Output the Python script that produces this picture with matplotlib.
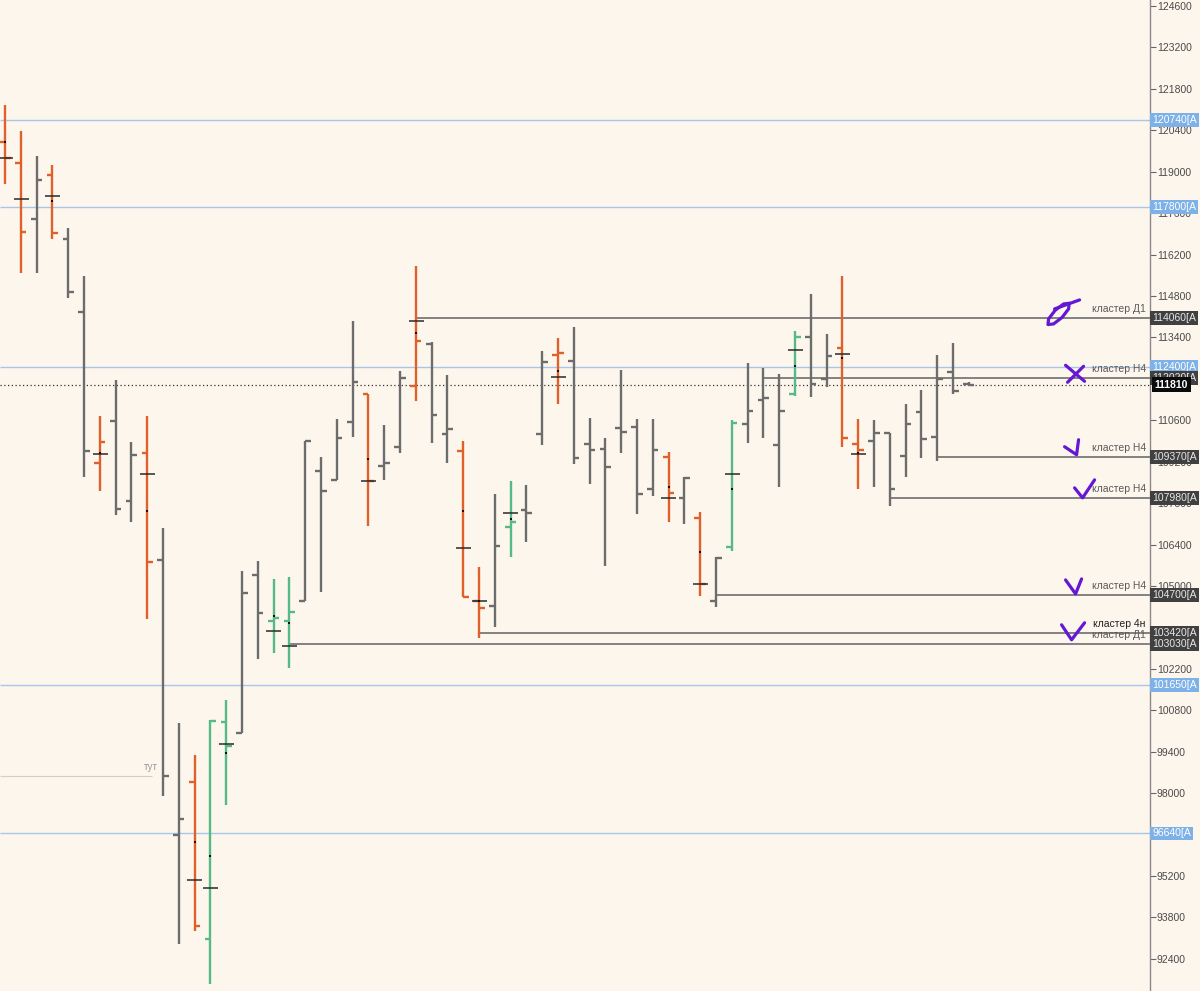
import matplotlib
matplotlib.use("Agg")
import matplotlib.pyplot as plt
import numpy as np

plt.rcParams['font.family'] = ['Liberation Sans', 'DejaVu Sans']

nan = np.nan
# ---- bar data (price units) ----
bar_colors = ['o', 'o', 'g', 'o', 'g', 'g', 'o', 'g', 'g', 'o',
              'g', 'g', 'o', 'e', 'e', 'g', 'g', 'e', 'e', 'g',
              'g', 'g', 'g', 'o', 'g', 'g', 'o', 'g', 'g', 'o',
              'o', 'g', 'e', 'g', 'g', 'o', 'g', 'g', 'g', 'g',
              'g', 'g', 'o', 'g', 'o', 'g', 'e', 'g', 'g', 'g',
              'e', 'g', 'g', 'o', 'o', 'g', 'g', 'g', 'g', 'g',
              'g', 'g']
highs = [121260, 120380, 119530, 119230, 117100, 115480, 110750, 111960, 109870, 110750,
         106960, 100370, 99290, 100470, 101150, 105510, 105850, 105240, 105310, 109900,
         109360, 110650, 113960, 111490, 110440, 112270, 115820, 113250, 112130, 109900,
         105640, 108110, 108550, 108420, 112940, 113380, 113750, 110680, 110000, 112300,
         110650, 110650, 109530, 108690, 107500, 105980, 110610, 112540, 112370, 112170,
         113620, 114870, 113520, 115480, 110650, 110610, 110170, 111150, 111630, 112810,
         113210, 111900]
lows = [118590, 115580, 115580, 116730, 114730, 108690, 108210, 107400, 107170, 103890,
        97910, 92900, 93350, 91550, 97600, 100040, 102540, 102740, 102230, 104500,
        104800, 108580, 110040, 107030, 108580, 109500, 111250, 109830, 109160, 104630,
        103250, 103620, 105980, 106490, 109770, 111150, 109120, 108450, 105680, 109500,
        107440, 108040, 107170, 107100, 104660, 104290, 106190, 109830, 110000, 108350,
        111420, 111390, 111730, 109700, 108280, 108350, 107710, 108690, 109330, 109230,
        111490, 111760]
opens = [120000, 119300, 117400, 118890, 116730, 114260, 109160, 110580, 107870, 109500,
         105880, 96590, 98380, 93070, 100410, 100040, 105370, 103820, 103820, 104500,
         108890, 108580, 110540, 111490, 109060, 109700, 111760, 113180, 110140, 109560,
         104500, 104330, 107000, 107570, 110140, 112810, 112610, 109800, 109630, 110340,
         110380, 108280, 109360, 107980, 107300, 104500, 106320, 110480, 111290, 109770,
         111490, 113420, 112000, 113040, 109800, 109900, 110170, 109400, 110880, 110040,
         112230, 111830]
closes = [119460, 116960, 118720, 116930, 114940, 109560, 109870, 107600, 109430, 105810,
          98580, 97130, 93510, 100440, 99600, 104770, 104090, 103920, 104120, 109900,
          108210, 110000, 111900, 108550, 109160, 112030, 113280, 110780, 110310, 104630,
          104260, 106350, 107170, 107470, 112570, 112880, 109330, 109600, 109020, 110210,
          108110, 109600, 108150, 108650, 105070, 105950, 110510, 110920, 111360, 110920,
          113420, 111830, 112770, 110000, 109600, 110170, 108280, 110480, 109970, 112000,
          111590, 111790]
pocs = [119460, 118080, nan, 118180, nan, nan, 109460, nan, nan, 108790,
        nan, nan, 95070, 94800, 99660, nan, nan, 103480, 102980, nan,
        nan, nan, nan, 108550, nan, nan, 113960, nan, nan, 106290,
        104500, nan, 107470, nan, nan, 112060, nan, nan, nan, nan,
        nan, nan, 107980, nan, 105070, nan, 108790, nan, nan, nan,
        112980, nan, nan, 112840, 109460, nan, nan, nan, nan, nan,
        nan, nan]
dots = [119990, nan, nan, 118010, nan, nan, 109500, nan, nan, 107540,
        nan, nan, 96350, 95880, 99360, nan, nan, 103990, 103750, nan,
        nan, nan, nan, 109290, nan, nan, 113550, nan, nan, 107540,
        104500, nan, 107270, nan, nan, 112270, nan, nan, nan, nan,
        nan, nan, 108350, nan, 106150, nan, 108280, nan, nan, nan,
        112440, nan, nan, 112710, 109500, nan, nan, nan, nan, nan,
        nan, nan]

# ---- levels ----
blue_levels = [120740, 117800, 112400, 101650, 96640]
cluster_levels = [114060, 112020, 109370, 107980, 104700, 103420, 103030]
cluster_start = [26, 48, 59, 56, 45, 30, 18]
cluster_texts = ['кластер Д1', 'кластер Н4', 'кластер Н4', 'кластер Н4',
                 'кластер Н4', 'кластер 4н', 'кластер Д1']
current_price = 111810
tut_level = 98580
tut_bar = 10
y_ticks = list(range(92400, 124601, 1400))
hidden_tick_labels = [112000, 103600, 96600]

BG = '#fdf6ed'
COL = {'g': '#6c6c6c', 'o': '#e0602a', 'e': '#55ba85'}

fig = plt.figure(figsize=(12, 9.91), dpi=100, facecolor=BG)
ax = fig.add_axes([0, 0, 1150 / 1200, 1])
ax.set_facecolor(BG)
xmin, xmax = -0.316, 72.47
ymin, ymax = 91316, 124803
ax.set_xlim(xmin, xmax)
ax.set_ylim(ymin, ymax)

for s in ['top', 'left', 'bottom']:
    ax.spines[s].set_visible(False)
ax.spines['right'].set_color('#8a8a8a')
ax.spines['right'].set_linewidth(1.0)
ax.set_xticks([])
ax.yaxis.tick_right()
ax.set_yticks(y_ticks)
ax.set_yticklabels(['' if t in hidden_tick_labels else str(t) for t in y_ticks])
ax.tick_params(axis='y', length=4, width=0.8, color='#666666', labelsize=7.5,
               labelcolor='#4a4a4a', pad=1)

# horizontal levels
ax.hlines(blue_levels, xmin, xmax, colors='#a8c6ea', lw=1.0, zorder=1)
ax.hlines([current_price], xmin, xmax, colors='#333333', lw=0.9,
          linestyles=(0, (1, 2)), zorder=1)
ax.hlines([tut_level], xmin, tut_bar - 0.7, colors='#dcccc4', lw=0.8, zorder=1)
ax.text(tut_bar - 0.35, tut_level + 120, 'тут', ha='right', va='bottom',
        fontsize=7, color='#9a9a9a')
for lv, st in zip(cluster_levels, cluster_start):
    ax.hlines([lv], st, xmax, colors='#6e6e6e', lw=1.2, zorder=2)

# bars
x = np.arange(len(highs))
cols = [COL[c] for c in bar_colors]
ax.vlines(x, lows, highs, colors=cols, lw=1.7, zorder=3)
ax.hlines(opens, x - 0.36, x, colors=cols, lw=1.7, zorder=3)
ax.hlines(closes, x, x + 0.36, colors=cols, lw=1.7, zorder=3)
pocs_a = np.array(pocs, dtype=float)
m = ~np.isnan(pocs_a)
ax.hlines(pocs_a[m], x[m] - 0.45, x[m] + 0.5, colors='#2a2a2a', lw=1.1, zorder=4)
dots_a = np.array(dots, dtype=float)
md = ~np.isnan(dots_a)
ax.plot(x[md], dots_a[md], 's', ms=1.6, color='#111111', mew=0, zorder=5)

# cluster text labels
for lv, t in zip(cluster_levels, cluster_texts):
    dark = t.endswith('4н')
    ax.annotate(t, xy=(xmax, lv), xytext=(-3, 3), textcoords='offset points',
                ha='right', va='bottom', fontsize=7.5,
                color='#222222' if dark else '#5a5a5a', zorder=6)

# right-side price boxes
from matplotlib.transforms import blended_transform_factory
tr = blended_transform_factory(ax.transAxes, ax.transData)
for lv in blue_levels:
    ax.text(1.002, lv, f'{lv}[A', transform=tr, ha='left', va='center',
            fontsize=7.5, color='white', clip_on=False, zorder=10,
            bbox=dict(boxstyle='square,pad=0.18', fc='#7eb1e8', ec='none'))
for lv in cluster_levels:
    ax.text(1.002, lv, f'{lv}[A', transform=tr, ha='left', va='center',
            fontsize=7.5, color='#e8e8e8', clip_on=False, zorder=10,
            bbox=dict(boxstyle='square,pad=0.18', fc='#404040', ec='none'))
ax.text(1.004, current_price, f'{current_price}', transform=tr, ha='left',
        va='center', fontsize=7.5, color='white', fontweight='bold',
        clip_on=False, zorder=11,
        bbox=dict(boxstyle='square,pad=0.25', fc='#0a0a0a', ec='none'))

# hand-drawn purple marks (pixel offsets relative to mark anchor on each level)
xs = (xmax - xmin) / 1150.0
ys = (ymax - ymin) / 991.0
anchor_x = 67
marks = [
    (114060, [[(5.6, 14.6), (0, 14), (-8.5, 7.5), (-15, -1), (-15.6, -6.6), (-10, -6),
               (-1.5, 0.5), (5, 9), (5.6, 14.6)],
              [(-9, 9), (16, 18)]]),
    (112020, [[(2, 13), (21, -3)], [(4, -4), (20, 12)]]),
    (109370, [[(1, 10), (13, 2), (15, 17)]]),
    (107980, [[(11, 10), (19, 0), (31, 18)]]),
    (104700, [[(2, 15), (12, 1), (18, 16)]]),
    (103420, [[(-2, 8), (8, -7), (21, 10)]]),
]
for lv, strokes in marks:
    for st in strokes:
        px = [anchor_x + p[0] * xs for p in st]
        py = [lv + p[1] * ys for p in st]
        ax.plot(px, py, color='#6418d4', lw=2.3, solid_capstyle='round',
                solid_joinstyle='round', zorder=8)

fig.savefig('out.png', dpi=100, facecolor=BG)
